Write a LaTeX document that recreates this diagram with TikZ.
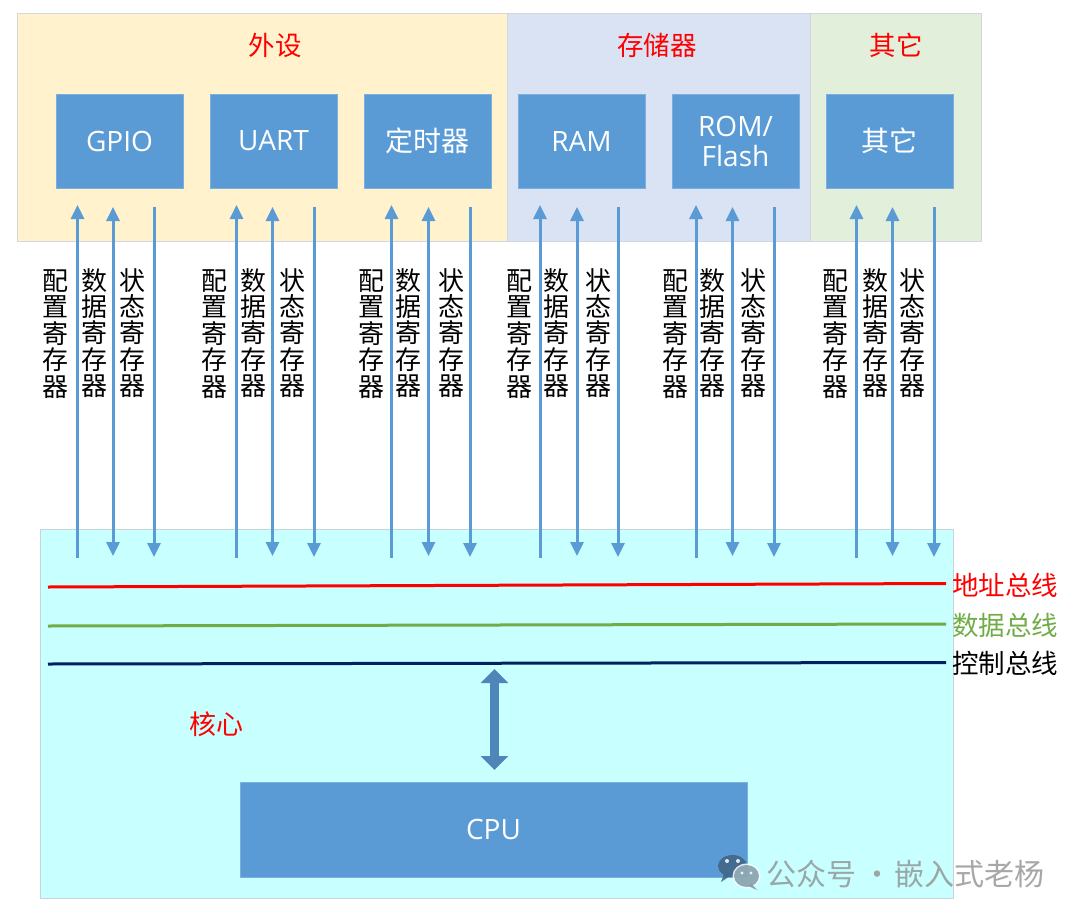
\documentclass[tikz,border=0pt]{standalone}
\usepackage{fontspec}
\setmainfont{Noto Sans CJK SC}
\newfontfamily\latinf{Open Sans}
\usetikzlibrary{arrows.meta}
\definecolor{boxblue}{HTML}{5B9BD5}
\definecolor{arrowblue}{HTML}{5B9BD5}
\definecolor{panelA}{HTML}{FFF2CC}
\definecolor{panelB}{HTML}{DAE3F3}
\definecolor{panelC}{HTML}{E2EFDA}
\definecolor{panelborder}{HTML}{D3D7DC}
\definecolor{corefill}{HTML}{C8FFFF}
\definecolor{coreborder}{HTML}{CBD3DA}
\definecolor{busgreen}{HTML}{70AD47}
\definecolor{busnavy}{HTML}{002060}
\definecolor{bigarrow}{HTML}{4F86BA}
\definecolor{wmgray}{HTML}{8A8A8A}
\definecolor{iconA}{HTML}{3F6384}
\definecolor{iconB}{HTML}{7D9BA9}
\begin{document}
\begin{tikzpicture}[x=1pt,y=-1pt,
  panel/.style={draw=panelborder, line width=1pt, inner sep=0pt, minimum height=228pt},
  blk/.style={fill=boxblue, draw=boxblue!80!white, line width=0.6pt, minimum width=127pt, minimum height=94pt, inner sep=0pt, text=white, font=\fontsize{28}{32}\selectfont, align=center},
  regarrow/.style={draw=arrowblue, line width=3pt},
  vlabel/.style={font=\fontsize{26}{26.4}\selectfont, align=center, inner sep=0pt, text=black},
  grouptitle/.style={text=red, font=\fontsize{26.5}{30}\selectfont, inner sep=0pt},
  buslabel/.style={anchor=west, font=\fontsize{26.5}{30}\selectfont, inner sep=0pt}
]
\useasboundingbox (0,0) rectangle (1080,916);
\fill[white] (0,0) rectangle (1080,916);

% panels
\node[panel, fill=panelA, minimum width=490pt] (pA) at (262,127) {};
\node[panel, fill=panelB, minimum width=303pt] (pB) at (658.5,127) {};
\node[panel, fill=panelC, minimum width=171pt] (pC) at (895.5,127) {};

\node[grouptitle] (tA) at (275,45) {外设};
\node[grouptitle] (tB) at (657,45) {存储器};
\node[grouptitle] (tC) at (896,45) {其它};

% core
\node[draw=coreborder, line width=1pt, fill=corefill, minimum width=913pt, minimum height=369pt, inner sep=0pt] (core) at (496.5,713.5) {};

% blocks
\node[blk] (gpio) at (119.5,141) {\latinf GPIO};
\node[blk] (uart) at (273.5,141) {\latinf UART};
\node[blk] (timer) at (427.5,141) {定时器};
\node[blk] (ram) at (581.5,141) {\latinf RAM};
\node[blk] (rom) at (735.5,141) {\latinf ROM/\\[-2pt]\latinf Flash};
\node[blk] (other) at (889.5,141) {其它};

% register arrows and labels
\foreach \n/\a/\b/\c/\la/\lb/\lc in {
  1/77.5/113/154/55/94/132,
  2/236.5/272.5/314/214/253/292,
  3/391.5/428.5/470/371.5/408/451,
  4/540/577/618/519/556/598,
  5/696/732.5/774/675/712/753,
  6/856.5/892.5/934/835/875/912.5}{
  \coordinate (cfgT\n) at (\a,205);
  \coordinate (cfgB\n) at (\a,558);
  \coordinate (datT\n) at (\b,207);
  \coordinate (datB\n) at (\b,556);
  \coordinate (staT\n) at (\c,207);
  \coordinate (staB\n) at (\c,557);
  \draw[regarrow, -{Triangle[length=14pt,width=13pt]}] (cfgB\n) -- (cfgT\n);
  \draw[regarrow, {Triangle[length=14pt,width=13pt]}-{Triangle[length=14pt,width=13pt]}] (datB\n) -- (datT\n);
  \draw[regarrow, -{Triangle[length=14pt,width=13pt]}] (staT\n) -- (staB\n);
  \node[vlabel] (lcfg\n) at (\la,334) {配\\置\\寄\\存\\器};
  \node[vlabel] (ldat\n) at (\lb,333) {数\\据\\寄\\存\\器};
  \node[vlabel] (lsta\n) at (\lc,333) {状\\态\\寄\\存\\器};
}

% buses
\coordinate (abL) at (48,587);
\coordinate (abR) at (946,583.5);
\coordinate (dbL) at (48,626);
\coordinate (dbR) at (946,624);
\coordinate (cbL) at (48,664);
\coordinate (cbR) at (946,662.5);
\draw[red, line width=3pt] (abL) -- (abR);
\draw[busgreen, line width=3pt] (dbL) -- (dbR);
\draw[busnavy, line width=3pt] (cbL) -- (cbR);
\node[buslabel, text=red] (abl) at (952,585) {地址总线};
\node[buslabel, text=busgreen] (dbl) at (952,625) {数据总线};
\node[buslabel, text=black] (cbl) at (952,663) {控制总线};

\node[grouptitle, font=\fontsize{27}{30}\selectfont] (corelabel) at (216,724) {核心};

% CPU
\node[blk, minimum width=507pt, minimum height=95pt] (cpu) at (493.5,829.5) {\latinf CPU};

\coordinate (busT) at (494.5,669);
\coordinate (cpuT) at (494.5,770);
\draw[bigarrow, line width=9pt, {Triangle[length=14pt,width=27pt]}-{Triangle[length=14pt,width=27pt]}] (busT) -- (cpuT);

% watermark
\begin{scope}[opacity=0.85]
  \fill[iconA] (732.5,866) ellipse [x radius=14.5pt, y radius=11pt];
  \fill[iconA] (724,874) -- (721,882) -- (730,876) -- cycle;
  \fill[white] (727,861) circle (2pt) (738,861) circle (2pt);
  \fill[white] (746.5,876) ellipse [x radius=14pt, y radius=12.5pt];
  \fill[iconB] (746.5,876) ellipse [x radius=12.5pt, y radius=11pt];
  \fill[iconB] (752,884) -- (757,890) -- (748,886) -- cycle;
  \fill[white] (742,873) circle (1.7pt) (751,873) circle (1.7pt);
\end{scope}
\node[anchor=west, inner sep=0pt, text=wmgray, opacity=0.75, font=\fontsize{30}{30}\selectfont] (wm) at (766,874) {公众号 ·\kern-5pt{} 嵌入式老杨};
\end{tikzpicture}
\end{document}
